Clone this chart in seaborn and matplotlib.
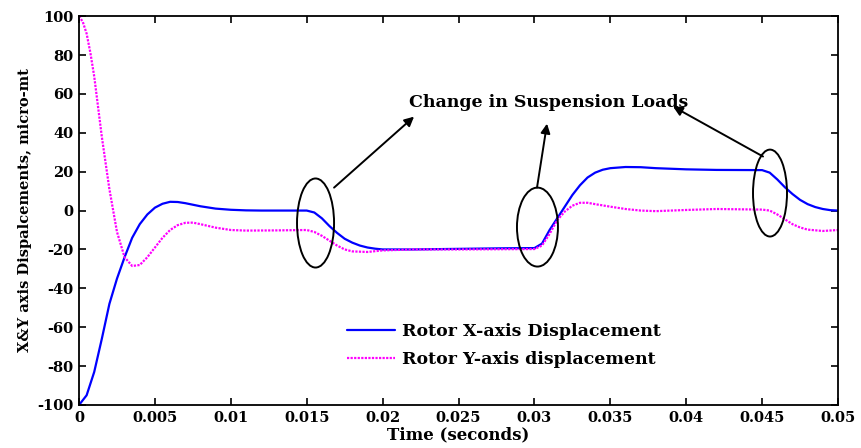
import numpy as np
import pandas as pd
import matplotlib
matplotlib.use("Agg")
import matplotlib.pyplot as plt
from matplotlib.patches import Ellipse
import seaborn as sns

# ---- data ----
t_x = [0, 0.0005, 0.001, 0.0015, 0.002, 0.0025, 0.003, 0.0035, 0.004, 0.0045,
       0.005, 0.0055, 0.006, 0.0065, 0.007, 0.0075, 0.008, 0.009, 0.010, 0.011,
       0.012, 0.015, 0.0155, 0.016, 0.0165, 0.017, 0.0175, 0.018, 0.0185, 0.019,
       0.0195, 0.020, 0.022, 0.025, 0.028, 0.030, 0.0305, 0.031, 0.0315, 0.032,
       0.0325, 0.033, 0.0335, 0.034, 0.0345, 0.035, 0.036, 0.037, 0.038, 0.040,
       0.042, 0.045, 0.0455, 0.046, 0.0465, 0.047, 0.0475, 0.048, 0.0485, 0.049,
       0.0495, 0.05]
x_disp = [-100, -95, -83, -66, -48, -35, -24, -14, -7, -2,
          1.5, 3.5, 4.5, 4.4, 3.8, 3.0, 2.2, 1.0, 0.4, 0.1,
          0, 0, -1, -4, -8, -11.5, -14.5, -16.5, -18, -19,
          -19.6, -20, -20, -19.7, -19.4, -19.3, -17, -10, -4, 2,
          8, 13, 17, 19.5, 21, 21.8, 22.4, 22.3, 21.8, 21.2,
          20.9, 20.8, 19.5, 16, 12, 8.5, 5.5, 3.3, 1.8, 0.8,
          0.2, 0]

t_y = [0, 0.00025, 0.0005, 0.00075, 0.001, 0.0015, 0.002, 0.0025, 0.003, 0.0035,
       0.004, 0.0045, 0.005, 0.0055, 0.006, 0.0065, 0.007, 0.0075, 0.008, 0.009,
       0.010, 0.011, 0.013, 0.015, 0.0155, 0.016, 0.0165, 0.017, 0.0175, 0.018,
       0.019, 0.020, 0.022, 0.025, 0.030, 0.0305, 0.031, 0.0315, 0.032, 0.0325,
       0.033, 0.0335, 0.034, 0.035, 0.036, 0.037, 0.038, 0.040, 0.042, 0.045,
       0.0455, 0.046, 0.0465, 0.047, 0.0475, 0.048, 0.049, 0.05]
y_disp = [100, 97, 91, 81, 69, 38, 11, -11, -24, -28.5,
          -28, -24, -19, -14, -10, -7.5, -6.3, -6.2, -7, -8.8,
          -10, -10.3, -10.2, -10, -11, -13, -15.5, -18, -20, -21,
          -21.3, -20.5, -20, -20, -19.8, -18, -12, -5, -0.5, 2.5,
          4, 4, 3.3, 2, 0.8, 0, -0.3, 0.3, 0.8, 0.5,
          0, -2, -4.5, -7, -8.7, -9.8, -10.5, -10]

label_x = "Rotor X-axis Displacement"
label_y = "Rotor Y-axis displacement"
x_ticks = [0, 0.005, 0.01, 0.015, 0.02, 0.025, 0.03, 0.035, 0.04, 0.045, 0.05]
x_tick_labels = ["0", "0.005", "0.01", "0.015", "0.02", "0.025", "0.03",
                 "0.035", "0.04", "0.045", "0.05"]
y_ticks = [-100, -80, -60, -40, -20, 0, 20, 40, 60, 80, 100]

# annotation geometry (data coords)
ellipses = [((0.01558, -6.4), 0.00244, 45.8),
            ((0.0302, -8.5), 0.0027, 40.6),
            ((0.04552, 9.0), 0.00224, 44.7)]
arrows = [((0.0168, 11.8), (0.02207, 48.3)),
          ((0.03017, 11.8), (0.03083, 44.7)),
          ((0.04506, 27.8), (0.03913, 53.5))]

sns.set_style("ticks")
plt.rcParams['font.family'] = ['DejaVu Serif']
plt.rcParams['font.weight'] = 'bold'
plt.rcParams['axes.unicode_minus'] = False
for k in ['text.color', 'axes.labelcolor', 'xtick.color', 'ytick.color']:
    plt.rcParams[k] = 'black'

df_x = pd.DataFrame({"t": t_x, "v": x_disp})
df_y = pd.DataFrame({"t": t_y, "v": y_disp})

fig = plt.figure(figsize=(8.61, 4.48), dpi=100)
ax = fig.add_axes([0.0918, 0.096, 0.8815, 0.868])

sns.lineplot(data=df_x, x="t", y="v", ax=ax, color="#0000FF", lw=1.6,
             label=label_x, estimator=None, sort=False)
sns.lineplot(data=df_y, x="t", y="v", ax=ax, color="#FF00FF", lw=1.6,
             linestyle=(0, (1, 0.6)), label=label_y, estimator=None, sort=False)

for (c, w, h) in ellipses:
    ax.add_patch(Ellipse(c, w, h, fill=False, ec="black", lw=1.4, zorder=5))
for (tail, head) in arrows:
    ax.annotate("", xy=head, xytext=tail,
                arrowprops=dict(arrowstyle="-|>", color="black", lw=1.4,
                                mutation_scale=14, shrinkA=0, shrinkB=0))
ax.text(0.02174, 55.5, "Change in Suspension Loads", fontsize=12.5,
        fontweight="bold", va="center", ha="left", color="black")

ax.set_xlim(0, 0.05)
ax.set_ylim(-100, 100)
ax.set_xticks(x_ticks)
ax.set_xticklabels(x_tick_labels)
ax.set_yticks(y_ticks)
ax.tick_params(direction="in", length=5, width=1.2, top=True, right=True,
               labelsize=10.5, pad=4, colors="black")
for lab in ax.get_xticklabels() + ax.get_yticklabels():
    lab.set_fontweight("bold")
for s in ax.spines.values():
    s.set_linewidth(1.3)
    s.set_color("black")

ax.set_xlabel("Time (seconds)", fontsize=12, fontweight="bold", labelpad=1)
ax.set_ylabel("X&Y axis Dispalcements, micro-mt", fontsize=10.5,
              fontweight="bold", labelpad=4)

leg = ax.legend(loc="upper left", bbox_to_anchor=(0.333, 0.25), frameon=False,
                fontsize=12.5, handlelength=2.75, handletextpad=0.4,
                labelspacing=0.6)
for txt in leg.get_texts():
    txt.set_fontweight("bold")
    txt.set_color("black")

fig.savefig("out.png", dpi=100)
